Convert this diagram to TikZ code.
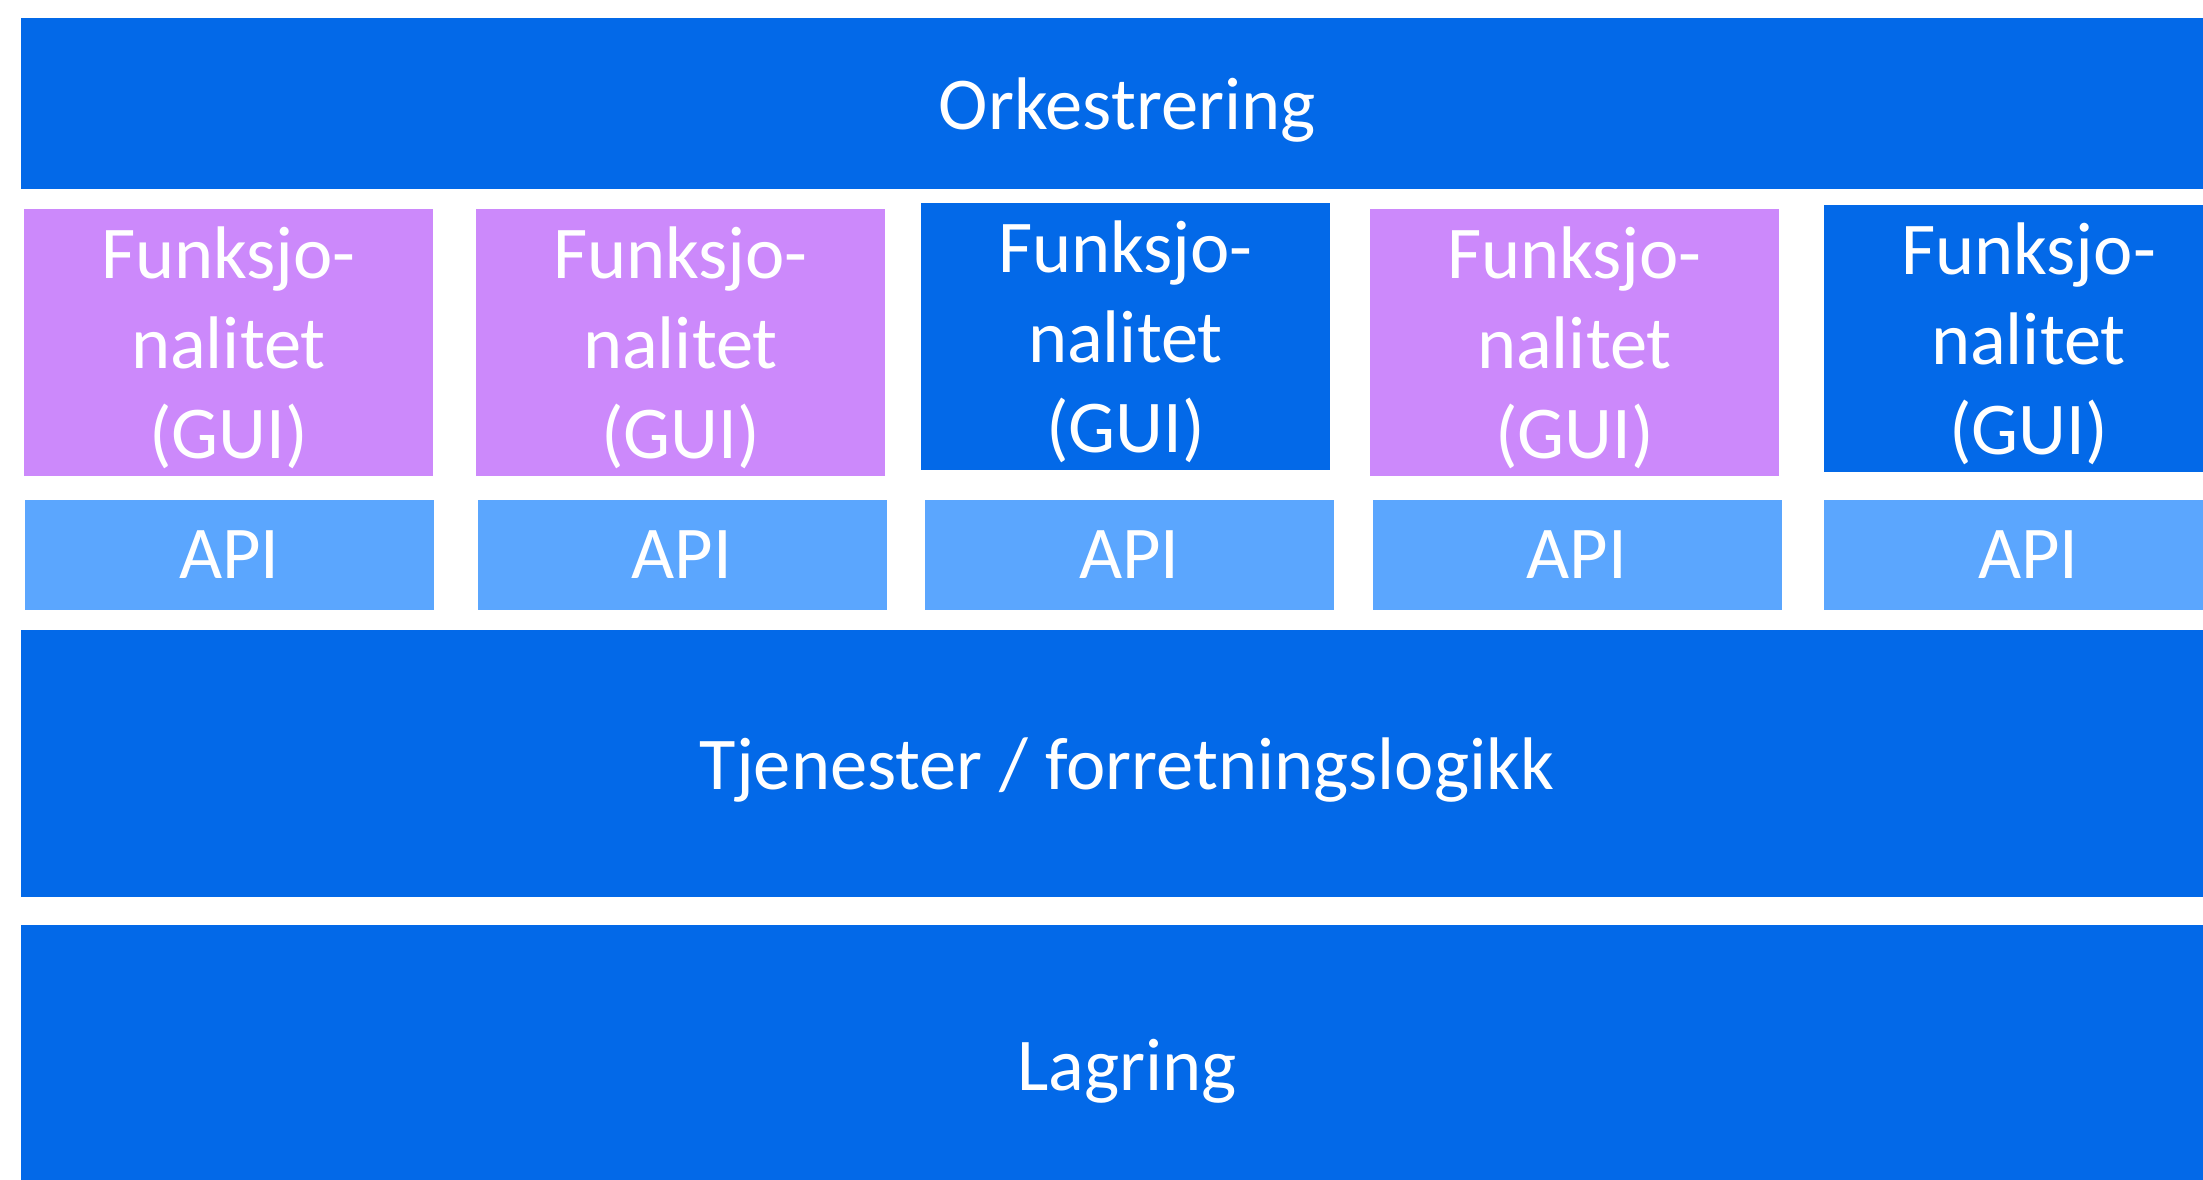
\documentclass[tikz,border=0pt]{standalone}
\usepackage{fontspec}
\setmainfont{Carlito}
\usetikzlibrary{positioning}
\definecolor{layerblue}{HTML}{0369E8}
\definecolor{funkpurple}{HTML}{CC89FB}
\definecolor{apiblue}{HTML}{5BA6FE}
\tikzset{
  layerbox/.style = {fill=layerblue, text=white, inner sep=0pt, align=center,
                     font=\fontsize{21.2}{25.6}\selectfont, text depth=0pt,
                     minimum width=221.2mm},
  funkbox/.style  = {layerbox, fill=funkpurple,
                     minimum width=40.9mm, minimum height=26.7mm},
  funkblue/.style = {funkbox, fill=layerblue},
  apibox/.style   = {layerbox, fill=apiblue,
                     minimum width=40.9mm, minimum height=11mm},
}

\begin{document}
\begin{tikzpicture}[x=0.1mm, y=-0.1mm]
  \useasboundingbox (0,0) rectangle (2203,1179);
  \clip (0,0) rectangle (2203,1179);

  % top layer
  \node[layerbox, minimum height=17.1mm] (ork) at (1127,103.5) {Orkestrering};

  % functionality (GUI) per column
  \node[funkbox]  (f1) at (228.5,342.5)  {Funksjo-\\nalitet\\(GUI)};
  \node[funkbox]  (f2) at (680.5,342.5)  {Funksjo-\\nalitet\\(GUI)};
  \node[funkblue] (f3) at (1125.5,336.5) {Funksjo-\\nalitet\\(GUI)};
  \node[funkbox]  (f4) at (1574.5,342.5) {Funksjo-\\nalitet\\(GUI)};
  \node[funkblue] (f5) at (2028.5,338.5) {Funksjo-\\nalitet\\(GUI)};

  % APIs
  \node[apibox] (a1) at (229.5,555)  {API};
  \node[apibox] (a2) at (682,555)    {API};
  \node[apibox] (a3) at (1129.5,555) {API};
  \node[apibox] (a4) at (1577,555)   {API};
  \node[apibox] (a5) at (2028.5,555) {API};

  % lower layers
  \node[layerbox, minimum height=26.7mm] (tj)  at (1127,763.5) {Tjenester / forretningslogikk};
  \node[layerbox, minimum height=28mm]   (lag) at (1127,1065)  {Lagring};
\end{tikzpicture}
\end{document}
